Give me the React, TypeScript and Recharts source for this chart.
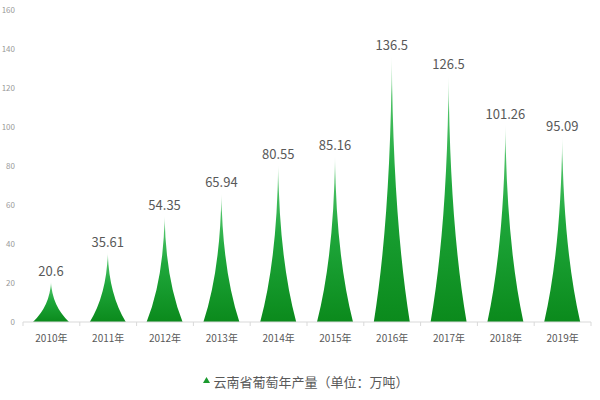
import React from "react";
import { BarChart, Bar, XAxis, YAxis, LabelList, Legend } from "recharts";

const years = ["2010年", "2011年", "2012年", "2013年", "2014年", "2015年", "2016年", "2017年", "2018年", "2019年"];
const output = [20.6, 35.61, 54.35, 65.94, 80.55, 85.16, 136.5, 126.5, 101.26, 95.09];
const yTicks = [0, 20, 40, 60, 80, 100, 120, 140, 160];

const seriesName = "云南省葡萄年产量（单位：万吨）";
const FONT = '"Noto Sans CJK SC", "Noto Sans", sans-serif';

const data = years.map((year, i) => ({ year, value: output[i] }));

// concave-sided spike, like a pictorial bar
const Spike = (props: any) => {
  const { x, y, width, height } = props;
  if (!height || height <= 0) return null;
  const cx = x + width / 2;
  const b = y + height;
  const cy = y + height * 0.6;
  const d = `M${x},${b} Q${cx - width * 0.03},${cy} ${cx},${y} Q${cx + width * 0.03},${cy} ${x + width},${b} Z`;
  return <path d={d} fill="url(#spikeFill)" />;
};

const XTick = (props: any) => {
  const { x, y, payload, index } = props;
  const half = payload?.offset ?? 28.4;
  return (
    <g>
      {index === 0 && <line x1={x - half} x2={x - half} y1={y - 8} y2={y - 4} stroke="#d9d9d9" />}
      <line x1={x + half} x2={x + half} y1={y - 8} y2={y - 4} stroke="#d9d9d9" />
      <text x={x} y={y + 12} textAnchor="middle" fontSize={10} fill="#595959" fontFamily={FONT}>
        {payload.value}
      </text>
    </g>
  );
};

const LegendContent = () => (
  <div
    style={{
      display: "flex",
      justifyContent: "center",
      alignItems: "center",
      height: 40,
      paddingTop: 18,
      paddingLeft: 20,
      boxSizing: "border-box",
      fontFamily: FONT,
      fontSize: 13,
      color: "#595959",
    }}
  >
    <svg width={9} height={8} style={{ marginRight: 2, marginTop: -3 }}>
      <polygon points="1,7 4.5,1 8,7" fill="#1a9a2e" />
    </svg>
    <span>{seriesName}</span>
  </div>
);

export default function App() {
  return (
    <div style={{ position: "absolute", left: 0, top: 0, background: "#fff" }}>
      <BarChart width={600} height={400} data={data} margin={{ top: 10, right: 9, left: 0, bottom: 8 }}>
        <defs>
          <linearGradient id="spikeFill" x1="0" y1="0" x2="0" y2="1">
            <stop offset="0%" stopColor="#f0faf2" />
            <stop offset="15%" stopColor="#4cc266" />
            <stop offset="45%" stopColor="#1fa83c" />
            <stop offset="100%" stopColor="#0b8a1c" />
          </linearGradient>
        </defs>
        <XAxis
          dataKey="year"
          height={30}
          axisLine={{ stroke: "#d9d9d9" }}
          tickLine={false}
          tick={<XTick />}
          interval={0}
        />
        <YAxis
          width={23}
          domain={[0, 160]}
          ticks={yTicks}
          axisLine={false}
          tickLine={false}
          tick={{ fontSize: 8, fill: "#999", fontFamily: FONT }}
        />
        <Legend verticalAlign="bottom" height={40} content={<LegendContent />} />
        <Bar dataKey="value" name={seriesName} barSize={36} shape={<Spike />} isAnimationActive={false}>
          <LabelList
            dataKey="value"
            position="top"
            offset={6}
            fontSize={13}
            fill="#595959"
            fontFamily={FONT}
          />
        </Bar>
      </BarChart>
    </div>
  );
}
